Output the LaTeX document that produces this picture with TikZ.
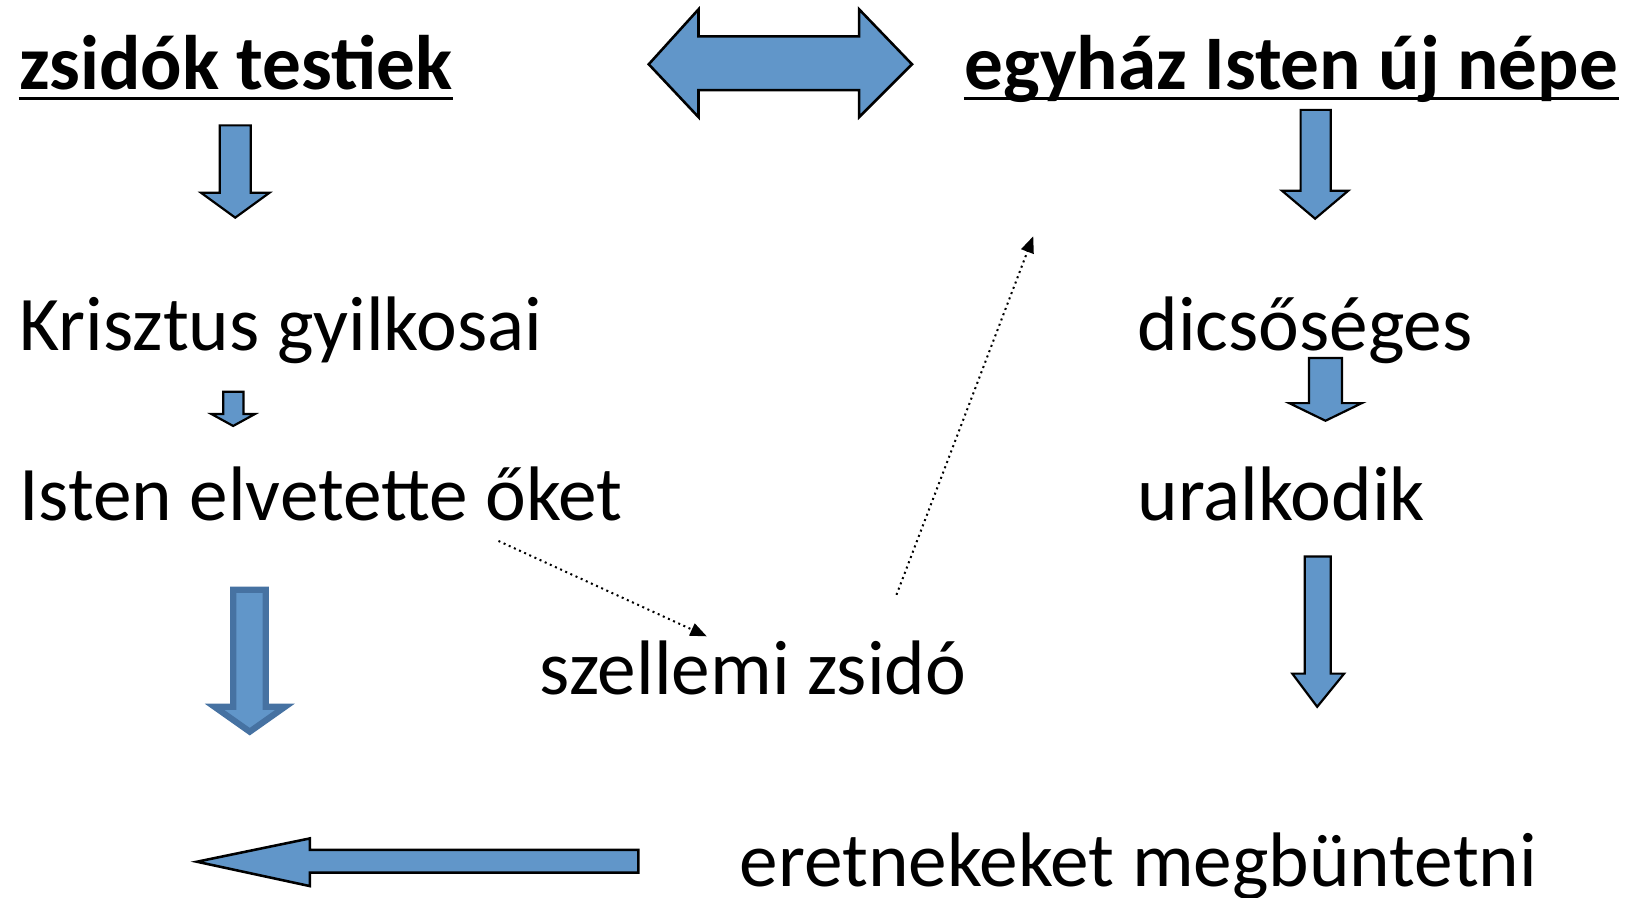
\documentclass[tikz,border=0pt]{standalone}
\usepackage{fontspec}
\setmainfont{Carlito}
\usetikzlibrary{arrows.meta}
\definecolor{arrowblue}{HTML}{6196C9}
\definecolor{arrowedge}{HTML}{4672A2}
\tikzset{
  label/.style={anchor=base west, inner sep=0pt, font=\fontsize{21.2}{25}\selectfont},
  title/.style={label, font=\fontsize{21.2}{25}\selectfont\bfseries},
  blockarrow/.style={fill=arrowblue, draw=black, line width=0.6pt, line join=miter},
  bigarrow/.style={fill=arrowblue, draw=arrowedge, line width=1.7pt, line join=miter},
  hint/.style={densely dotted, line width=0.55pt, -{Triangle[length=4.5pt,width=3.6pt]}}
}
\begin{document}
\begin{tikzpicture}[x=0.01cm, y=-0.01cm]

  \useasboundingbox (0,0) rectangle (1568,866);

  \node[title] (zsidok) at (18,86) {zsidók testiek};
  \node[title] (egyhaz) at (930,86) {egyház Isten új népe};
  \node[label] (krisztus) at (18,338) {Krisztus gyilkosai};
  \node[label] (elvetette) at (18,502) {Isten elvetette őket};
  \node[label] (dicsoseges) at (1097,338) {dicsőséges};
  \node[label] (uralkodik) at (1097,502) {uralkodik};
  \node[label] (szellemi) at (520,670) {szellemi zsidó};
  \node[label] (eretnek) at (713,855) {eretnekeket megbüntetni};

  \draw[line width=0.85pt] ([yshift=-0.09cm]zsidok.base west) -- ([yshift=-0.09cm]zsidok.base east);
  \draw[line width=0.85pt] ([yshift=-0.09cm]egyhaz.base west) -- ([yshift=-0.09cm]egyhaz.base east);

  \draw[blockarrow, line width=0.7pt] (626,62) -- (674,9) -- (674,35) -- (829,35) -- (829,9)
    -- (880,62) -- (829,113) -- (829,87) -- (674,87) -- (674,113) -- cycle;

  \draw[blockarrow] (212,121) -- (242,121) -- (242,186) -- (260,186) -- (227,210)
    -- (194,186) -- (212,186) -- cycle;
  \draw[blockarrow] (215.5,378) -- (235,378) -- (235,399.5) -- (246,399.5) -- (225,411)
    -- (204,399.5) -- (215.5,399.5) -- cycle;
  \draw[bigarrow] (225,569) -- (256.5,569) -- (256.5,682) -- (275,682) -- (241,706)
    -- (207,682) -- (225,682) -- cycle;

  \draw[blockarrow] (1255,106) -- (1284,106) -- (1284,184) -- (1301,184) -- (1269,211)
    -- (1237,184) -- (1255,184) -- cycle;
  \draw[blockarrow] (1263,345.5) -- (1295,345.5) -- (1295,389) -- (1314,389) -- (1279,406)
    -- (1244,389) -- (1263,389) -- cycle;
  \draw[blockarrow] (1259,537) -- (1284,537) -- (1284,650) -- (1297,650) -- (1271,682)
    -- (1247,650) -- (1259,650) -- cycle;

  \draw[blockarrow, line width=0.7pt] (190,831.5) -- (299,809) -- (299,820) -- (616,820)
    -- (616,842) -- (299,842) -- (299,855) -- cycle;

  \coordinate (hintA) at (481,522);
  \coordinate (hintB) at (682,614);
  \coordinate (hintC) at (865,574);
  \coordinate (hintD) at (997,228);
  \draw[hint] (hintA) -- (hintB);
  \draw[hint] (hintC) -- (hintD);

\end{tikzpicture}
\end{document}
